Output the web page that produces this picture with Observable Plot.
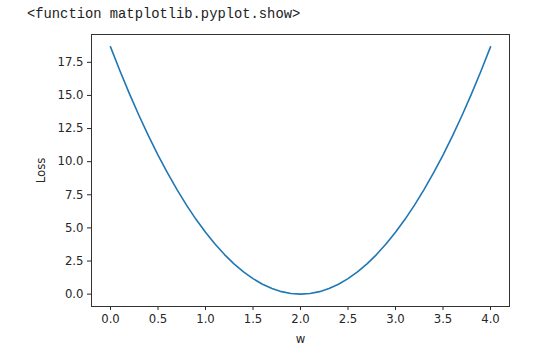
<!DOCTYPE html>
<html>
<head>
<meta charset="utf-8">
<script src="https://cdn.jsdelivr.net/npm/d3@7"></script>
<script src="https://cdn.jsdelivr.net/npm/@observablehq/plot@0.6"></script>
<style>
  html, body { margin: 0; padding: 0; background: #fff; }
  #title { height: 30px; line-height: 30px; padding-left: 27px; font-family: "Liberation Mono", "DejaVu Sans Mono", monospace; font-size: 13.8px; color: #222; white-space: pre; }
  #chart svg { display: block; }
</style>
</head>
<body>
<div id="title">&lt;function matplotlib.pyplot.show&gt;</div>
<div id="chart"></div>
<script>
const wValues = [0.0, 0.1, 0.2, 0.3, 0.4, 0.5, 0.6, 0.7, 0.8, 0.9, 1.0, 1.1, 1.2, 1.3, 1.4, 1.5, 1.6, 1.7, 1.8, 1.9, 2.0,
                 2.1, 2.2, 2.3, 2.4, 2.5, 2.6, 2.7, 2.8, 2.9, 3.0, 3.1, 3.2, 3.3, 3.4, 3.5, 3.6, 3.7, 3.8, 3.9, 4.0];
const lossValues = [18.667, 16.847, 15.120, 13.487, 11.947, 10.500, 9.147, 7.887, 6.720, 5.647, 4.667, 3.780, 2.987, 2.287, 1.680, 1.167, 0.747, 0.420, 0.187, 0.047, 0.000,
                    0.047, 0.187, 0.420, 0.747, 1.167, 1.680, 2.287, 2.987, 3.780, 4.667, 5.647, 6.720, 7.887, 9.147, 10.500, 11.947, 13.487, 15.120, 16.847, 18.667];
const xTicks = [0.0, 0.5, 1.0, 1.5, 2.0, 2.5, 3.0, 3.5, 4.0];
const yTicks = [0.0, 2.5, 5.0, 7.5, 10.0, 12.5, 15.0, 17.5];

const data = wValues.map((w, i) => ({w, loss: lossValues[i]}));

const chart = Plot.plot({
  width: 549,
  height: 330,
  marginTop: 4,
  marginBottom: 54,
  marginLeft: 91,
  marginRight: 40,
  style: {fontFamily: "DejaVu Sans, sans-serif", fontSize: "11.7px", color: "#262626", background: "#fff"},
  x: {domain: [-0.2, 4.2]},
  y: {domain: [-0.9333, 19.6]},
  marks: [
    Plot.axisX({ticks: xTicks, tickFormat: d3.format(".1f"), tickSize: 4, tickPadding: 4, fontSize: 11.7, label: "w", labelAnchor: "center", labelArrow: "none", labelOffset: 36}),
    Plot.axisY({ticks: yTicks, tickFormat: d3.format(".1f"), tickSize: 4, tickPadding: 4, fontSize: 11.7, label: "Loss", labelAnchor: "center", labelArrow: "none", labelOffset: 55}),
    Plot.line(data, {x: "w", y: "loss", stroke: "#1f77b4", strokeWidth: 1.6}),
    Plot.frame({stroke: "#333", strokeWidth: 1})
  ]
});
document.getElementById("chart").appendChild(chart);
</script>
</body>
</html>
